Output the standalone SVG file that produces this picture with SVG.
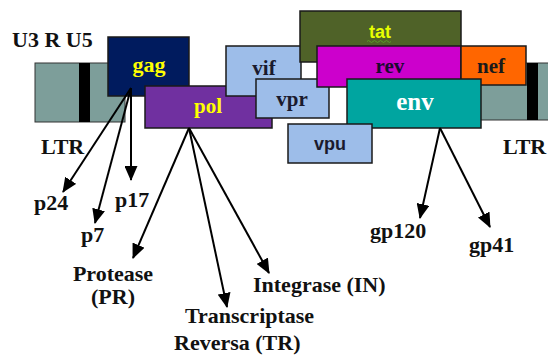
<svg xmlns="http://www.w3.org/2000/svg" width="548" height="356" viewBox="0 0 548 356">
  <style>
    .box { stroke: #1a1a1a; stroke-width: 1.5; }
    .ltr { fill: #7d9e9a; stroke: #333; stroke-width: 1; }
    .band { fill: #000; }
    .t { font-family: "Liberation Serif", "Times New Roman", serif; font-weight: bold; }
    .s { font-family: "Liberation Sans", Arial, sans-serif; font-weight: bold; }
    .lbl { font-size: 22px; fill: #111; }
    .c { text-anchor: middle; }
    .edge { stroke: #000; stroke-width: 2; fill: none; marker-end: url(#head); }
  </style>
  <defs>
    <marker id="head" viewBox="0 0 15 13" refX="14" refY="6.5" markerWidth="15" markerHeight="13" markerUnits="userSpaceOnUse" orient="auto">
      <path d="M0,0 L15,6.5 L0,13 Z" fill="#000"/>
    </marker>
  </defs>
  <rect width="548" height="356" fill="#fff"/>

  <!-- long terminal repeats at both ends -->
  <g id="ltr-left">
    <rect class="ltr" x="35" y="63" width="90" height="59"/>
    <rect class="band" x="79" y="63" width="11" height="59"/>
    <text class="t lbl" x="12" y="47" font-size="22.5">U3 R U5</text>
    <text class="t lbl" x="41" y="154" font-size="23">LTR</text>
  </g>
  <g id="ltr-right">
    <rect class="ltr" x="470" y="63" width="80" height="57"/>
    <rect class="band" x="527" y="63" width="11" height="57"/>
    <text class="t lbl" x="503" y="154" font-size="23">LTR</text>
  </g>

  <!-- genes -->
  <g id="gag">
    <rect class="box" x="108" y="37" width="81" height="59" fill="#001b5e"/>
    <text class="t c" x="149" y="72" font-size="22" fill="#ffff00">gag</text>
  </g>
  <g id="pol">
    <rect class="box" x="145" y="86" width="127" height="42" fill="#7030a0"/>
    <text class="t c" x="208" y="113" font-size="21" fill="#ffff00">pol</text>
  </g>
  <g id="vif">
    <rect class="box" x="226" y="46" width="75" height="50" fill="#9dbde9"/>
    <text class="t c" x="264" y="75" font-size="21" fill="#1a1a2e">vif</text>
  </g>
  <g id="vpr">
    <rect class="box" x="256" y="79" width="73" height="39" fill="#9dbde9"/>
    <text class="t c" x="292" y="106" font-size="21" fill="#1a1a2e">vpr</text>
  </g>
  <g id="tat">
    <rect class="box" x="300" y="11" width="161" height="51" fill="#4f6228"/>
    <text class="s c" x="380" y="38" font-size="18" fill="#e8ff00">tat</text>
    <path d="M367,41.5 q1.5,-2 3,0 t3,0 t3,0 t3,0 t3,0 t3,0 t3,0 t3,0" stroke="#5a9a2a" stroke-width="1" fill="none"/>
  </g>
  <g id="rev">
    <rect class="box" x="317" y="46" width="144" height="41" fill="#cc00cc"/>
    <text class="t c" x="390" y="73" font-size="21" fill="#1a0a30">rev</text>
  </g>
  <g id="nef">
    <rect class="box" x="461" y="46" width="65" height="39" fill="#ff6600"/>
    <text class="t c" x="491" y="73" font-size="21" fill="#1a1a1a">nef</text>
  </g>
  <g id="env">
    <rect class="box" x="347" y="79" width="134" height="49" fill="#00a5a0"/>
    <text class="t c" x="415" y="110" font-size="25" fill="#ffffff">env</text>
  </g>
  <g id="vpu">
    <rect class="box" x="288" y="124" width="84" height="39" fill="#9dbde9"/>
    <text class="s c" x="330" y="150" font-size="18" fill="#1a1a2e">vpu</text>
  </g>

  <!-- processing products -->
  <g id="connectors">
    <line class="edge" x1="131" y1="88" x2="63" y2="192"/>
    <line class="edge" x1="131" y1="88" x2="95" y2="223"/>
    <line class="edge" x1="131" y1="88" x2="131" y2="180"/>
    <line class="edge" x1="189" y1="128" x2="133" y2="258"/>
    <line class="edge" x1="189" y1="128" x2="227" y2="307"/>
    <line class="edge" x1="189" y1="128" x2="269" y2="273"/>
    <line class="edge" x1="440" y1="128" x2="420" y2="218"/>
    <line class="edge" x1="440" y1="128" x2="490" y2="227"/>
  </g>

  <g id="labels">
    <text class="t lbl" x="34" y="210">p24</text>
    <text class="t lbl" x="81" y="242">p7</text>
    <text class="t lbl" x="115" y="207">p17</text>
    <text class="t lbl c" x="113" y="281">Protease</text>
    <text class="t lbl c" x="113" y="304">(PR)</text>
    <text class="t lbl" x="185" y="323">Transcriptase</text>
    <text class="t lbl" x="174" y="350" font-size="25">Reversa (TR)</text>
    <text class="t lbl" x="253" y="292">Integrase (IN)</text>
    <text class="t lbl" x="370" y="238">gp120</text>
    <text class="t lbl" x="469" y="252">gp41</text>
  </g>
</svg>
